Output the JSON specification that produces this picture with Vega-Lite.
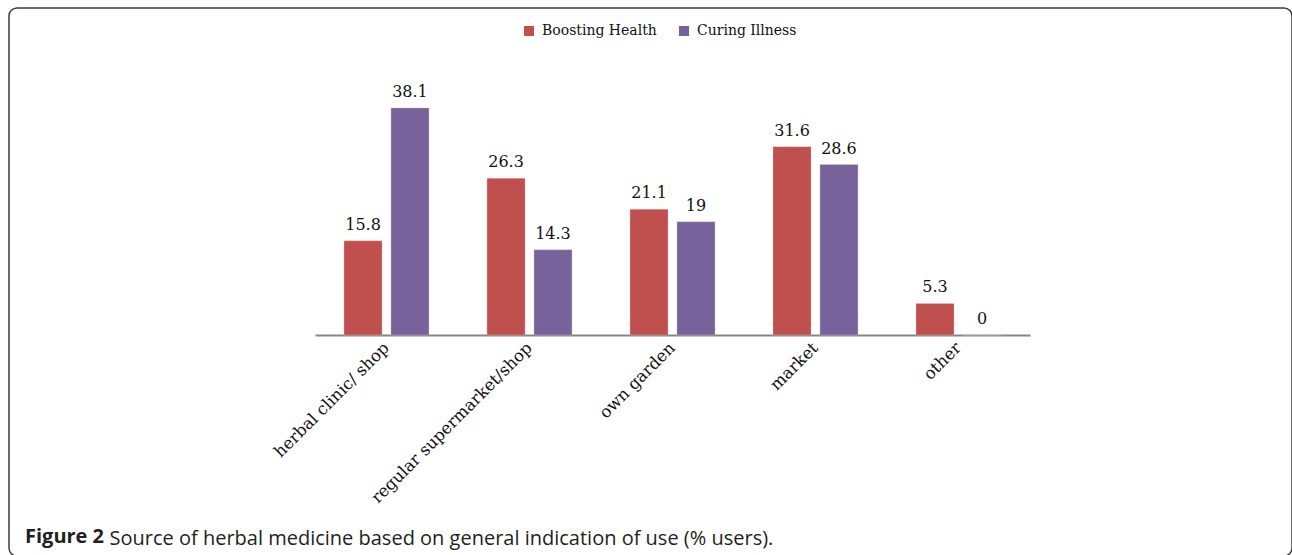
{
  "$schema": "https://vega.github.io/schema/vega-lite/v6.json",
  "width": 1283,
  "height": 548,
  "autosize": {"type": "none"},
  "padding": {"left": 9, "top": 8, "right": 0, "bottom": 0},
  "background": "white",
  "config": {
    "view": {"stroke": "#3a3a3a", "strokeWidth": 1.5, "cornerRadius": 8}
  },
  "title": {
    "text": "Figure 2",
    "orient": "bottom",
    "anchor": "start",
    "frame": "group",
    "dx": 16,
    "dy": -13,
    "offset": 0,
    "font": "Open Sans",
    "fontSize": 20,
    "fontWeight": "bold",
    "color": "#231f20",
    "baseline": "alphabetic"
  },
  "data": {
    "values": [
      {"source": "herbal clinic/ shop", "use": "Boosting Health", "pct": 15.8},
      {"source": "herbal clinic/ shop", "use": "Curing Illness", "pct": 38.1},
      {"source": "regular supermarket/shop", "use": "Boosting Health", "pct": 26.3},
      {"source": "regular supermarket/shop", "use": "Curing Illness", "pct": 14.3},
      {"source": "own garden", "use": "Boosting Health", "pct": 21.1},
      {"source": "own garden", "use": "Curing Illness", "pct": 19},
      {"source": "market", "use": "Boosting Health", "pct": 31.6},
      {"source": "market", "use": "Curing Illness", "pct": 28.6},
      {"source": "other", "use": "Boosting Health", "pct": 5.3},
      {"source": "other", "use": "Curing Illness", "pct": 0}
    ]
  },
  "encoding": {
    "x": {
      "field": "source",
      "type": "nominal",
      "sort": ["herbal clinic/ shop", "regular supermarket/shop", "own garden", "market", "other"],
      "scale": {"range": [306, 1021], "paddingInner": 0, "paddingOuter": 0},
      "axis": {
        "offset": -221,
        "domainColor": "#868686",
        "domainWidth": 2,
        "ticks": false,
        "labelAngle": -45,
        "labelAlign": "right",
        "labelBaseline": "middle",
        "labelPadding": 10,
        "labelLimit": 1000,
        "labelFont": "DejaVu Serif",
        "labelFontSize": 16.5,
        "labelColor": "#111111",
        "title": "Source of herbal medicine based on general indication of use (% users).",
        "titleX": 100,
        "titleY": 209,
        "titleAlign": "left",
        "titleAnchor": "start",
        "titleBaseline": "alphabetic",
        "titleAngle": 0,
        "titleFont": "Open Sans",
        "titleFontSize": 20,
        "titleFontWeight": 500,
        "titleColor": "#231f20",
        "titleLimit": 2000
      }
    },
    "xOffset": {
      "field": "use",
      "type": "nominal",
      "sort": ["Boosting Health", "Curing Illness"],
      "scale": {"paddingInner": 0.19, "paddingOuter": 0.617}
    },
    "y": {
      "field": "pct",
      "type": "quantitative",
      "scale": {"domain": [0, 40], "range": [327, 88.6]},
      "axis": null
    }
  },
  "layer": [
    {
      "mark": {"type": "bar", "stroke": "#e8c8c8", "strokeWidth": 0.6, "strokeOpacity": 0.6},
      "encoding": {
        "color": {
          "field": "use",
          "type": "nominal",
          "scale": {"domain": ["Boosting Health", "Curing Illness"], "range": ["#C0504D", "#77629B"]},
          "legend": {
            "orient": "none",
            "legendX": 513,
            "legendY": 16,
            "direction": "horizontal",
            "title": null,
            "symbolType": "square",
            "symbolSize": 100,
            "symbolStrokeWidth": 0,
            "labelFont": "DejaVu Serif",
            "labelFontSize": 14,
            "labelColor": "#111111",
            "labelOffset": 6,
            "columnPadding": 20,
            "padding": 0
          }
        }
      }
    },
    {
      "mark": {"type": "text", "baseline": "bottom", "dy": -8, "font": "DejaVu Serif", "fontSize": 16, "color": "#111111"},
      "encoding": {
        "text": {"field": "pct", "type": "quantitative"}
      }
    }
  ]
}
